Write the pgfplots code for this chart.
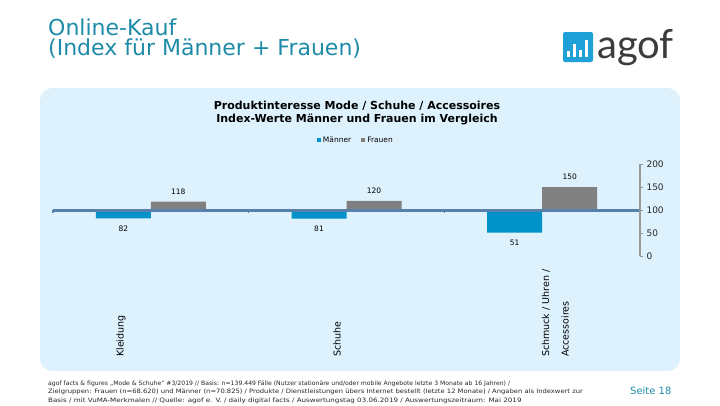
\documentclass[border=0pt]{standalone}
\usepackage{fontspec}
\setmainfont{DejaVu Sans}
\newfontfamily\lato{Lato}
\usepackage{pgfplots}
\usepackage{pgfplotstable}
\pgfplotsset{compat=1.18}

\definecolor{mblue}{RGB}{0,146,200}
\definecolor{fgray}{RGB}{128,128,128}
\definecolor{basecol}{RGB}{88,128,172}
\definecolor{panel}{RGB}{221,242,253}
\definecolor{teal}{RGB}{30,140,168}
\definecolor{logoblue}{RGB}{29,161,214}
\definecolor{agofgray}{RGB}{60,60,60}

% index values (Basis 100)
\pgfplotstableread{
x m f
0 82 118
1 81 120
2 51 150
}\indexdata

\begin{document}
\begin{tikzpicture}[x=1pt,y=1pt]
\path (0,0) rectangle (720,-405);

% header
\node[anchor=base west, text=teal, font=\fontsize{22}{22}\selectfont, inner sep=0pt] at (48,-35) {Online-Kauf};
\node[anchor=base west, text=teal, font=\fontsize{22}{22}\selectfont, inner sep=0pt] at (48,-55) {(Index für Männer + Frauen)};

% logo
\fill[logoblue, rounded corners=2pt] (563,-32) rectangle (593,-62);
\fill[white] (567,-57) rectangle (570,-51);
\fill[white] (573,-57) rectangle (576,-44);
\fill[white] (579,-57) rectangle (582,-50);
\fill[white] (585,-57) rectangle (588,-40);
\node[anchor=base west, text=agofgray, font=\fontsize{40}{40}\selectfont\lato, inner sep=0pt] at (597,-58) {agof};

% panel
\fill[panel, rounded corners=12pt] (40,-88) rectangle (680,-371);

\node[anchor=base, font=\fontsize{11}{12}\selectfont\bfseries, inner sep=0pt] at (357,-109) {Produktinteresse Mode / Schuhe / Accessoires};
\node[anchor=base, font=\fontsize{11}{12}\selectfont\bfseries, inner sep=0pt] at (357,-122) {Index-Werte Männer und Frauen im Vergleich};

\begin{axis}[
  at={(53pt,-256pt)}, anchor=south west,
  scale only axis, width=587pt, height=92pt,
  xmin=-0.5, xmax=2.5, ymin=-100, ymax=100,
  axis x line*=middle, axis y line*=right,
  x axis line style={draw=basecol, line width=3pt},
  y axis line style={draw=gray!80, line width=1.5pt},
  xtick={-0.5,0.5,1.5,2.5}, xticklabels={},
  xtick style={draw=basecol, line width=1.2pt},
  ytick={-100,-50,0,50,100},
  yticklabels={0,50,100,150,200},
  ytick style={draw=gray!80, line width=1pt},
  tick align=outside, major tick length=3pt,
  yticklabel style={font=\fontsize{9}{10}\selectfont, text=black!85},
  ybar=0pt, bar width=55pt,
  clip=false, axis on top,
  /pgf/number format/assume math mode=true,
  nodes near coords,
  every node near coord/.append style={font=\fontsize{7.5}{8}\selectfont, inner ysep=7pt, text=black},
  legend style={at={(0.516,1.26)}, anchor=center, draw=none, fill=none,
    font=\fontsize{7.5}{9}\selectfont, legend columns=2,
    /tikz/every even column/.append style={column sep=8pt}},
  legend image code/.code={\fill[#1] (0pt,-2pt) rectangle (4pt,2pt);},
]
\addplot[fill=mblue, draw=none, point meta=explicit,
  nodes near coords style={anchor=north}]
  table[x=x, y expr=\thisrow{m}-100, meta=m] {\indexdata};
\addplot[fill=fgray, draw=none, point meta=explicit,
  nodes near coords style={anchor=south}]
  table[x=x, y expr=\thisrow{f}-100, meta=f] {\indexdata};
\legend{Männer, Frauen}
\end{axis}

% category labels
\begin{scope}[every node/.style={rotate=90, anchor=west, font=\fontsize{9.5}{10}\selectfont, inner sep=0pt}]
\node at (121,-357) {Kleidung};
\node at (337,-357) {Schuhe};
\node at (546,-357) {Schmuck / Uhren /};
\node at (565,-357) {Accessoires};
\end{scope}

% footnote
\begin{scope}[every node/.style={anchor=base west, font=\fontsize{6}{6.5}\selectfont, inner sep=0pt, text=black!85}]
\node at (48,-385) {\scalebox{1.02}[1]{agof facts \& figures „Mode \& Schuhe“ \#3/2019 // Basis: n=139.449 Fälle (Nutzer stationäre und/oder mobile Angebote letzte 3 Monate ab 16 Jahren) /}};
\node at (48,-393.5) {\scalebox{1.13}[1]{Zielgruppen: Frauen (n=68.620) und Männer (n=70.825) / Produkte / Dienstleistungen übers Internet bestellt (letzte 12 Monate) / Angaben als Indexwert zur}};
\node at (48,-402) {\scalebox{1.19}[1]{Basis / mit VuMA-Merkmalen // Quelle: agof e. V. / daily digital facts / Auswertungstag 03.06.2019 / Auswertungszeitraum: Mai 2019}};
\end{scope}

\node[anchor=base west, text=teal, font=\fontsize{10}{11}\selectfont, inner sep=0pt] at (630,-394) {Seite 18};
\end{tikzpicture}
\end{document}
